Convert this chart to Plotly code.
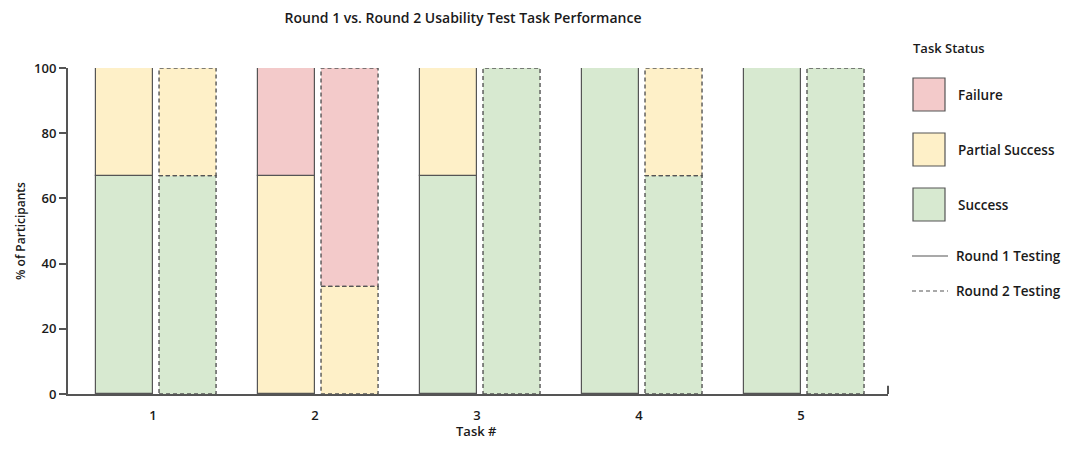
import plotly.graph_objects as go

tasks = [1, 2, 3, 4, 5]
task_labels = ["1", "2", "3", "4", "5"]
r1_success = [67, 0, 67, 100, 100]
r1_partial = [33, 67, 33, 0, 0]
r1_failure = [0, 33, 0, 0, 0]
r2_success = [67, 0, 100, 67, 100]
r2_partial = [33, 33, 0, 33, 0]
r2_failure = [0, 67, 0, 0, 0]
statuses = ["Success", "Partial Success", "Failure"]
colors = {"Failure": "#F3CACA", "Partial Success": "#FEF0C8", "Success": "#D7E9D0"}
edge = "#555555"
FONT = "Open Sans"
TXT = "#1a1a1a"
DASH = "4px,3px"

BAR_W = 0.352
R1_OFF = -0.354
R2_OFF = 0.037

fig = go.Figure()
shapes = []

def add_round(series, off, dashed):
    base = [0] * len(tasks)
    for st, vals in zip(statuses, series):
        ys = [v if v > 0 else None for v in vals]
        fig.add_trace(go.Bar(
            x=tasks, y=ys, base=base[:], offset=off, width=BAR_W,
            marker=dict(color=colors[st],
                        line=dict(color=edge, width=0 if dashed else 1.2)),
            showlegend=False, hoverinfo="skip"))
        if dashed:
            for t, b, v in zip(tasks, base, vals):
                if v > 0:
                    shapes.append(dict(type="rect", xref="x", yref="y",
                                       x0=t + off, x1=t + off + BAR_W, y0=b, y1=b + v,
                                       line=dict(color=edge, width=1.4, dash=DASH),
                                       fillcolor="rgba(0,0,0,0)", layer="above"))
        base = [b + v for b, v in zip(base, vals)]

add_round([r1_success, r1_partial, r1_failure], R1_OFF, False)
add_round([r2_success, r2_partial, r2_failure], R2_OFF, True)

# end tick on x axis
shapes.append(dict(type="line", xref="paper", yref="paper", x0=1, x1=1, y0=0, y1=0.025,
                   line=dict(color=edge, width=2)))

# page offset (body margin) compensation
OFF = 8
FW, FH = 1070 - 2 * OFF, 449 - 2 * OFF
L, T, W, H = 68 - OFF, 68 - OFF, 820, 326

def px(x):
    return (x - OFF - L) / W

def py(y):
    return (T + H - (y - OFF)) / H

lab_font = dict(family=FONT, size=13.5, color=TXT, weight=600)
annotations = [dict(text="Task Status", xref="paper", yref="paper", x=px(911), y=py(48),
                    xanchor="left", yanchor="middle", showarrow=False,
                    font=dict(family=FONT, size=13, color=TXT, weight=600)),
               dict(text="Task #", xref="paper", yref="paper", x=px(476), y=py(431),
                    xanchor="center", yanchor="middle", showarrow=False,
                    font=dict(family=FONT, size=13, color=TXT, weight=600))]
legend_items = [("Failure", 78, 111), ("Partial Success", 133, 166), ("Success", 188, 221)]
for name, y0, y1 in legend_items:
    shapes.append(dict(type="rect", xref="paper", yref="paper",
                       x0=px(913), x1=px(945), y0=py(y1), y1=py(y0),
                       fillcolor=colors[name], line=dict(color=edge, width=1.2)))
    annotations.append(dict(text=name, xref="paper", yref="paper", x=px(956), y=py((y0 + y1) / 2),
                            xanchor="left", yanchor="middle", showarrow=False, font=lab_font))
for name, yy, dash in [("Round 1 Testing", 256, "solid"), ("Round 2 Testing", 291, DASH)]:
    shapes.append(dict(type="line", xref="paper", yref="paper", x0=px(912), x1=px(948),
                       y0=py(yy), y1=py(yy), line=dict(color=edge, width=1.2, dash=dash)))
    annotations.append(dict(text=name, xref="paper", yref="paper", x=px(954), y=py(yy),
                            xanchor="left", yanchor="middle", showarrow=False, font=lab_font))

fig.update_layout(
    width=FW, height=FH,
    margin=dict(l=L, r=FW - L - W, t=T, b=FH - T - H, autoexpand=False),
    paper_bgcolor="white", plot_bgcolor="white",
    barmode="overlay", bargap=0,
    title=dict(text="Round 1 vs. Round 2 Usability Test Task Performance",
               x=(463 - OFF) / FW, xref="container", xanchor="center",
               y=1 - (18 - OFF) / FH, yref="container", yanchor="middle",
               font=dict(family=FONT, size=14, color=TXT, weight=600)),
    font=dict(family=FONT, size=13, color=TXT, weight=600),
    xaxis=dict(range=[0.475, 5.537], tickvals=tasks, ticktext=task_labels,
               showline=True, linecolor=edge, linewidth=2, ticks="",
               ticklabelstandoff=8, automargin=False,
               showgrid=False, zeroline=False),
    yaxis=dict(range=[0, 100], tickvals=[0, 20, 40, 60, 80, 100],
               showline=True, linecolor=edge, linewidth=2,
               ticks="outside", ticklen=7, tickwidth=2, tickcolor=edge,
               showgrid=False, zeroline=False, automargin=False,
               title=dict(text="% of Participants", font=dict(family=FONT, size=12, color=TXT, weight=600),
                          standoff=6)),
    shapes=shapes, annotations=annotations,
)

fig.write_html("out.html")
